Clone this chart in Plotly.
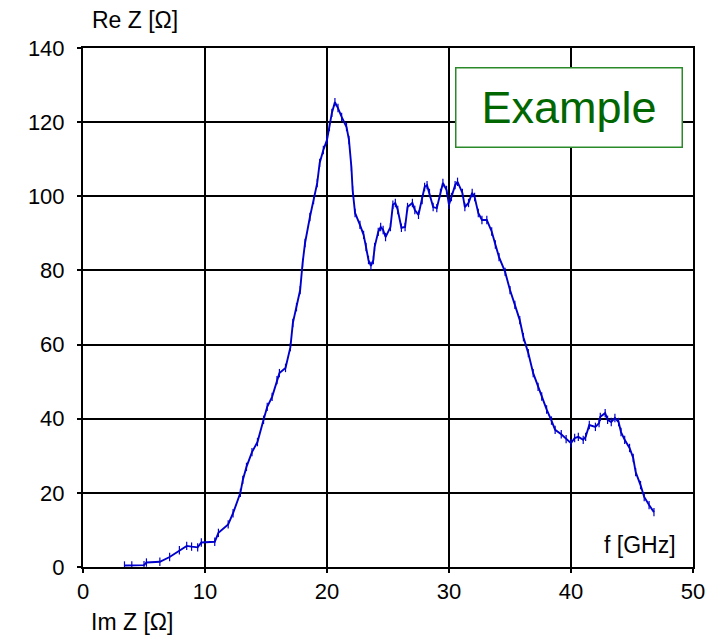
import plotly.graph_objects as go

# Impedance locus: Im Z on the horizontal axis, Re Z on the vertical axis
im_z = [3.4, 4.0, 5.0, 5.2, 6.3, 7.1, 7.9, 8.5, 8.9, 9.4, 9.7, 10.8, 11.1, 11.9,
        12.3, 12.9, 13.1, 13.4, 13.85, 14.3, 14.8, 15.1, 15.5, 15.9, 16.1, 16.6,
        17.0, 17.2, 17.5, 17.8, 18.0, 18.2, 18.6, 18.9, 19.2, 19.4, 19.7, 20.0,
        20.2, 20.4, 20.65, 20.9, 21.2, 21.6, 21.8, 22.0, 22.1, 22.3, 22.7, 23.0,
        23.2, 23.4, 23.6, 23.8, 23.9, 24.2, 24.4, 24.6, 24.8, 25.2, 25.4, 25.6,
        25.8, 26.1, 26.4, 26.6, 27.0, 27.2, 27.5, 27.8, 28.0, 28.2, 28.4, 28.7,
        29.0, 29.3, 29.5, 29.8, 30.0, 30.2, 30.5, 30.7, 31.1, 31.3, 31.6, 31.9,
        32.1, 32.4, 32.7, 33.1, 33.5, 33.8, 34.1, 34.6, 35.0, 35.4, 35.8, 36.1,
        36.5, 36.9, 37.3, 37.6, 38.0, 38.4, 38.7, 39.2, 39.6, 40.0, 40.3, 40.6,
        41.0, 41.2, 41.5, 42.0, 42.3, 42.4, 42.8, 43.0, 43.3, 43.6, 43.9, 44.1,
        44.4, 44.8, 45.1, 45.3, 45.7, 46.0, 46.4, 46.8]
re_z = [0.4, 0.4, 0.5, 1.2, 1.4, 2.7, 4.5, 5.7, 5.5, 5.3, 6.6, 6.8, 9.2, 11.5,
        14.5, 20.0, 23.5, 27.0, 31.0, 33.7, 39.7, 43.2, 45.9, 50.4, 52.3, 53.7,
        59.3, 65.8, 70.1, 74.7, 82.0, 87.4, 94.4, 99.0, 103.6, 109.0, 112.5, 115.2,
        118.7, 122.5, 125.4, 123.8, 121.4, 118.7, 115.2, 107.9, 101.7, 95.5, 92.3, 89.6,
        86.3, 82.8, 81.2, 82.8, 86.3, 90.4, 91.7, 90.9, 89.0, 91.7, 97.7, 98.2,
        96.3, 91.5, 91.7, 97.1, 98.2, 96.3, 95.0, 99.0, 102.5, 103.0, 100.9, 97.1,
        96.8, 100.9, 103.6, 101.7, 97.7, 99.8, 103.0, 103.9, 100.9, 97.1, 98.2, 100.9,
        99.8, 95.5, 93.6, 93.6, 90.5, 87.0, 83.6, 79.6, 74.7, 70.7, 66.6, 62.0,
        57.7, 52.3, 48.6, 46.0, 42.5, 39.5, 37.0, 35.8, 34.5, 33.4, 34.8, 35.1,
        34.3, 35.1, 38.3, 37.8, 38.8, 40.5, 41.5, 39.7, 39.1, 40.2, 39.1, 36.4,
        34.3, 32.1, 29.4, 25.6, 22.1, 18.9, 16.7, 14.8]

x_ticks = [0, 10, 20, 30, 40, 50]
y_ticks = [0, 20, 40, 60, 80, 100, 120, 140]

FONT = "Liberation Sans, Arial, sans-serif"

fig = go.Figure()
fig.add_trace(go.Scatter(
    x=im_z, y=re_z, mode="lines+markers",
    line=dict(color="#0000cc", width=1.9),
    marker=dict(symbol="line-ns", size=6, color="#0000cc",
                line=dict(color="#0000cc", width=1.2)),
    showlegend=False, hoverinfo="skip",
))

axis_common = dict(
    showgrid=True, gridcolor="black", gridwidth=1.5,
    showline=True, linecolor="black", linewidth=2, mirror=True,
    ticks="outside", ticklen=4, tickcolor="black", tickwidth=1.5,
    zeroline=False,
    tickfont=dict(family=FONT, size=22, color="black"),
)

fig.update_xaxes(range=[0, 50], tickvals=x_ticks, **axis_common)
fig.update_yaxes(range=[0, 140], tickvals=y_ticks, ticklabelstandoff=8, **axis_common)

fig.add_annotation(text="Re Z [Ω]", xref="paper", yref="paper", x=0.012, y=1.0,
                   yshift=28, xanchor="left", yanchor="middle", showarrow=False,
                   font=dict(family=FONT, size=23, color="black"))
fig.add_annotation(text="Im Z [Ω]", xref="paper", yref="paper", x=0.01, y=0.0,
                   yshift=-55, xanchor="left", yanchor="middle", showarrow=False,
                   font=dict(family=FONT, size=23, color="black"))
fig.add_annotation(text="f [GHz]", xref="paper", yref="paper", x=0.975, y=0.0,
                   yshift=22, xanchor="right", yanchor="middle", showarrow=False,
                   font=dict(family=FONT, size=23, color="black"))

fig.add_annotation(text="Example", xref="x", yref="y", x=30.5, y=134.9,
                   xanchor="left", yanchor="top", showarrow=False,
                   font=dict(family=FONT, size=45, color="#006600"),
                   bgcolor="white", bordercolor="#2a8a2a", borderwidth=1.5,
                   borderpad=10, width=205, height=58)

fig.update_layout(
    width=717, height=638,
    margin=dict(l=83, r=22, t=48, b=71),
    paper_bgcolor="white", plot_bgcolor="white",
)

fig.write_html("out.html")
